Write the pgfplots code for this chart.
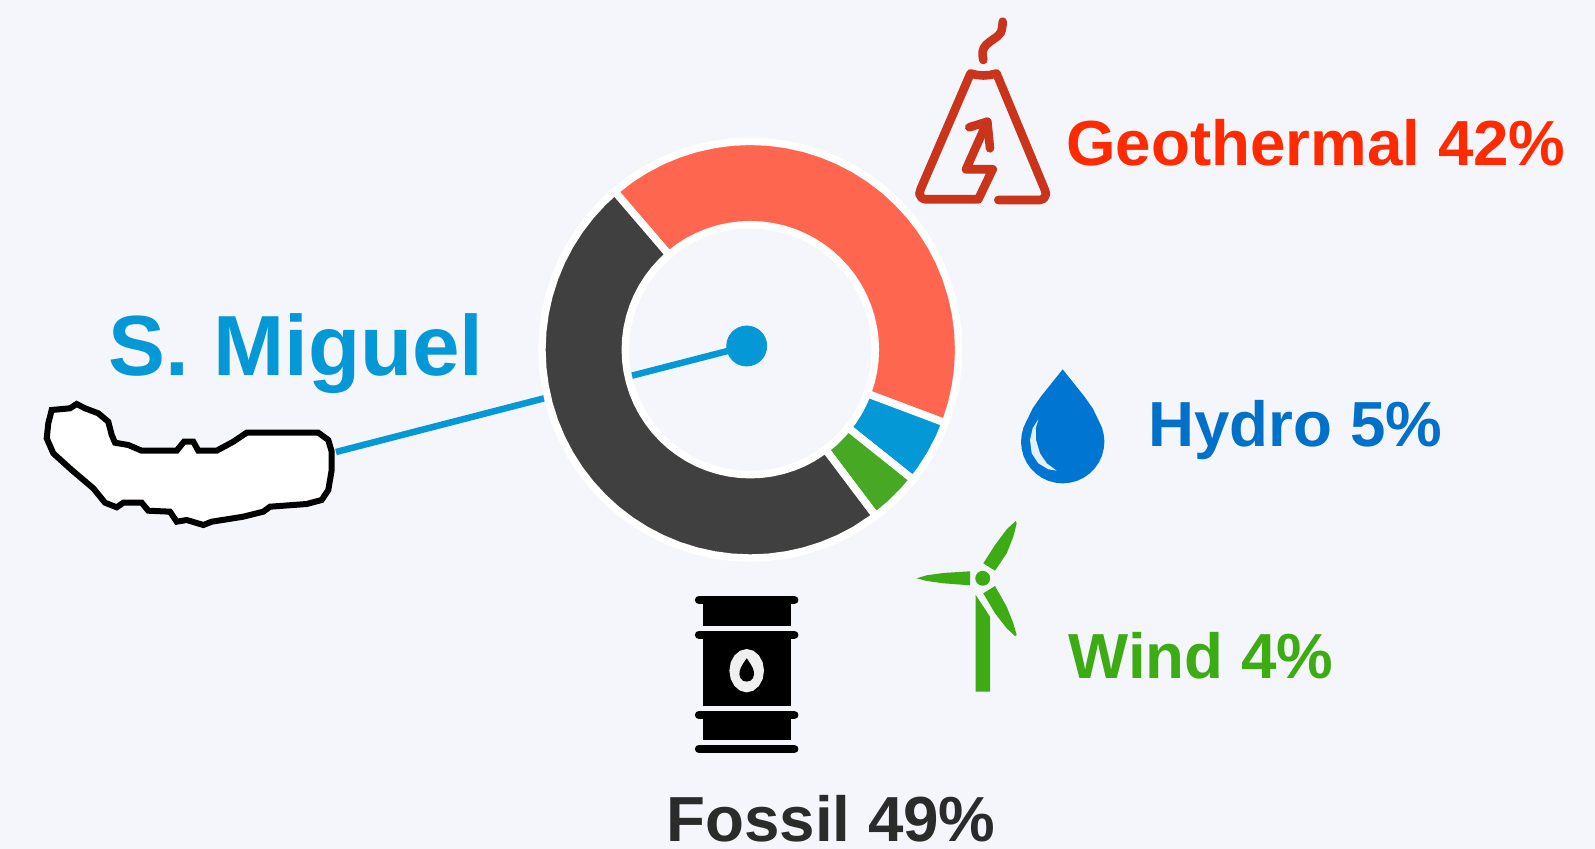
\documentclass[border=0pt]{standalone}
\usepackage{pgfplots}
\usepackage{fontspec}
\pgfplotsset{compat=1.18}
\setmainfont{Liberation Sans}
\definecolor{bg}{HTML}{F4F6FC}
\definecolor{cred}{HTML}{FF6650}
\definecolor{cblack}{HTML}{404040}
\definecolor{cblue}{HTML}{0598D6}
\definecolor{cgreen}{HTML}{46A823}
\definecolor{tred}{HTML}{FF2A00}
\definecolor{thyd}{HTML}{0070C8}
\definecolor{twin}{HTML}{3CAB14}
\definecolor{tfos}{HTML}{2B2B2B}
\definecolor{volc}{HTML}{C9341B}
\definecolor{drop}{HTML}{0076D2}
\newcommand{\lab}{\fontsize{31.85}{36}\selectfont\bfseries}
\pgfplotsset{base/.style={hide axis,scale only axis,width=797.5pt,height=424.5pt},
 wedge/.style={data cs=polar,draw=white,line width=3.75pt,line join=miter}}
\begin{document}
\begin{tikzpicture}
% pixel axis, behind the ring
\begin{axis}[base,xmin=0,xmax=1595,ymin=0,ymax=849,y dir=reverse]
\addplot[fill=bg,draw=none] coordinates {(0,0)(1595,0)(1595,849)(0,849)} --cycle;
\addplot[cblue,line width=3.25pt] coordinates {(336,452)(747,346)};
\addplot[color=cblue,only marks,mark=*,mark size=10pt,mark options={fill=cblue}] coordinates {(746.7,346)};
% island
\addplot[fill=white,draw=black,line width=3pt,line join=miter] coordinates {
(51.7,410)(70,408.3)(76.7,404)(85,408.3)(98.3,413.3)(108.3,421.7)(111.7,435)(115,442.7)(128.3,445)(141.7,450.7)(176.7,450.7)(184,441.7)(193.3,441.7)(198.3,450.7)(216.7,450.7)(233.3,441.7)(246.7,432.7)(318.3,432.7)(328.3,440)(331.7,451.7)(331.7,470)(328.3,490)(321.7,500)(306.7,504)(270,506.7)(263.3,511.7)(243.3,516.7)(211.7,521.7)(203.3,525)(186.7,520)(176.7,521.7)(170,511.7)(148.3,510.7)(141.7,502.7)(123.3,502.7)(116.7,507.3)(105,502.7)(93.3,488.3)(71.7,470)(53.3,453.3)(46.7,438.3)(48.3,423.3)} --cycle;
% volcano
\addplot[volc,line width=4.3pt,line cap=round,line join=round] coordinates {
(998.3,200)(1040,200)(1044,198.5)(1046,194)(1044.5,189)(996.5,73.5)(990,75)(983.3,75.5)(977,75)(970.5,73.5)(920.7,189)(919.3,194)(921.7,198)(925,199.3)(978.3,199.3)(992.7,169.3)(966,169.3)(987.3,121.7)};
\addplot[volc,line width=4.3pt,line cap=round,line join=round] coordinates {(969.3,127.3)(987.3,121.7)(990,148.3)};
\addplot[volc,line width=4.3pt,line cap=round,smooth,tension=0.7] coordinates {(983.3,60)(982.7,51.7)(986,45)(993.3,39.3)(1000.7,32.7)(1002.7,21.7)};
% drop
\addplot[fill=drop,draw=none] coordinates {(1062.7,369.3)(1073.3,382.7)(1084,396)(1092.7,408.3)(1098.8,420.9)(1101.9,427.4)(1103.7,434.5)(1104.4,441.7)(1103.7,448.9)(1101.9,455.9)(1098.8,462.5)(1094.6,468.5)(1089.5,473.6)(1083.5,477.8)(1076.9,480.9)(1069.9,482.7)(1062.7,483.4)(1055.5,482.7)(1048.5,480.9)(1041.9,477.8)(1035.9,473.6)(1030.8,468.5)(1026.6,462.5)(1023.5,455.9)(1021.7,448.9)(1021,441.7)(1021.7,434.5)(1023.5,427.4)(1026.6,420.9)(1032.7,408.3)(1041.3,396)(1052,382.7)} --cycle;
\addplot[fill=white!90!drop,draw=none] coordinates {(1038.3,419.3)(1032.7,428.3)(1030,440)(1031.7,453.3)(1038.3,463.3)(1048.3,469.3)(1056.7,470.7)(1046.7,463.3)(1040,453.3)(1036,440)(1035.7,428.3)} --cycle;
% turbine
\addplot[fill=twin,draw=none] coordinates {(916.7,578.3)(926.7,575.3)(943.3,573)(970,571.3)(970,585.3)(943.3,583.3)(926.7,581)} --cycle;
\addplot[fill=twin,draw=none] coordinates {(1015.7,521)(1006.7,529.3)(995,545)(983.3,563.3)(995,570.7)(1006.7,553.3)(1013.3,536.7)(1016.7,523.3)} --cycle;
\addplot[fill=twin,draw=none] coordinates {(983.3,593.3)(995,586)(1006.7,606.7)(1013.3,623.3)(1016.7,635)(1015,636)(1006.7,628.3)(995,613.3)} --cycle;
\addplot[fill=twin,draw=none] coordinates {(975.7,595)(990,616.7)(990,691.7)(975.7,691.7)} --cycle;
\addplot[color=twin,only marks,mark=*,mark size=3.5pt,mark options={fill=twin}] coordinates {(982.7,578.3)};
% barrel
\addplot[black,line width=4.15pt,line cap=round] coordinates {(699,600)(794.3,600)};
\addplot[black,line width=4.15pt,line cap=round] coordinates {(699,634.7)(794.3,634.7)};
\addplot[black,line width=4.15pt,line cap=round] coordinates {(699,715)(794.3,715)};
\addplot[black,line width=4.15pt,line cap=round] coordinates {(699,749)(794.3,749)};
\addplot[fill=black,draw=none] coordinates {(702.7,604)(790.7,604)(790.7,625.7)(702.7,625.7)} --cycle;
\addplot[fill=black,draw=none] coordinates {(702.7,636)(790.7,636)(790.7,705.7)(702.7,705.7)} --cycle;
\addplot[fill=black,draw=none] coordinates {(702.7,716)(790.7,716)(790.7,740)(702.7,740)} --cycle;
\addplot[fill=white!94!black,draw=none] coordinates {(764,670.7)(762.7,679)(758.9,686)(753.3,690.7)(746.7,692.4)(740.1,690.7)(734.5,686)(730.7,679)(729.4,670.7)(730.7,662.4)(734.5,655.4)(740.1,650.7)(746.7,649)(753.3,650.7)(758.9,655.4)(762.7,662.4)} --cycle;
\addplot[fill=black,draw=none] coordinates {(746.7,658.3)(748.5,661)(750.5,664)(752.5,667.5)(753.7,671)(754,674.3)(753,678)(750.5,680.7)(746.7,681.6)(742.9,680.7)(740.4,678)(739.4,674.3)(739.7,671)(740.9,667.5)(742.9,664)(744.9,661)} --cycle;
% labels
\node[anchor=base west,inner sep=0pt,text=cblue] at (axis cs:108.5,376) {\fontsize{42.7}{48}\selectfont\bfseries S. Miguel};
\node[anchor=base west,inner sep=0pt,text=tred] at (axis cs:1066,166) {\lab Geothermal 42\%};
\node[anchor=base west,inner sep=0pt,text=thyd] at (axis cs:1148,447) {\lab Hydro 5\%};
\node[anchor=base west,inner sep=0pt,text=twin] at (axis cs:1068,678) {\lab Wind 4\%};
\node[anchor=base west,inner sep=0pt,text=tfos] at (axis cs:666,841) {\lab Fossil 49\%};
\end{axis}
% donut, origin at the ring's centre
\begin{axis}[base,xmin=-750.3,xmax=844.7,ymin=-499.3,ymax=349.7]
\addplot[wedge,fill=cred] coordinates {
(130.6,208.4)(125,208.4)(120,208.4)(115,208.4)(110,208.4)(105,208.4)(100,208.4)(95,208.4)(90,208.4)(85,208.4)(80,208.4)(75,208.4)(70,208.4)(65,208.4)(60,208.4)(55,208.4)(50,208.4)(45,208.4)(40,208.4)(35,208.4)(30,208.4)(25,208.4)(20,208.4)(15,208.4)(10,208.4)(5,208.4)(0,208.4)(-5,208.4)(-10,208.4)(-15,208.4)(-20.6,208.4)
(-20.6,125)(-15,125)(-10,125)(-5,125)(0,125)(5,125)(10,125)(15,125)(20,125)(25,125)(30,125)(35,125)(40,125)(45,125)(50,125)(55,125)(60,125)(65,125)(70,125)(75,125)(80,125)(85,125)(90,125)(95,125)(100,125)(105,125)(110,125)(115,125)(120,125)(125,125)(130.6,125)} --cycle;
\addplot[wedge,fill=cblue] coordinates {
(-20.6,208.4)(-25,208.4)(-30,208.4)(-35,208.4)(-38.6,208.4)
(-38.6,125)(-35,125)(-30,125)(-25,125)(-20.6,125)} --cycle;
\addplot[wedge,fill=cgreen] coordinates {
(-38.6,208.4)(-43,208.4)(-48,208.4)(-53,208.4)
(-53,125)(-48,125)(-43,125)(-38.6,125)} --cycle;
\addplot[wedge,fill=cblack] coordinates {
(-53,208.4)(-60,208.4)(-65,208.4)(-70,208.4)(-75,208.4)(-80,208.4)(-85,208.4)(-90,208.4)(-95,208.4)(-100,208.4)(-105,208.4)(-110,208.4)(-115,208.4)(-120,208.4)(-125,208.4)(-130,208.4)(-135,208.4)(-140,208.4)(-145,208.4)(-150,208.4)(-155,208.4)(-160,208.4)(-165,208.4)(-170,208.4)(-175,208.4)(-180,208.4)(-185,208.4)(-190,208.4)(-195,208.4)(-200,208.4)(-205,208.4)(-210,208.4)(-215,208.4)(-220,208.4)(-225,208.4)(-229.4,208.4)
(-229.4,125)(-225,125)(-220,125)(-215,125)(-210,125)(-205,125)(-200,125)(-195,125)(-190,125)(-185,125)(-180,125)(-175,125)(-170,125)(-165,125)(-160,125)(-155,125)(-150,125)(-145,125)(-140,125)(-135,125)(-130,125)(-125,125)(-120,125)(-115,125)(-110,125)(-105,125)(-100,125)(-95,125)(-90,125)(-85,125)(-80,125)(-75,125)(-70,125)(-65,125)(-60,125)(-53,125)} --cycle;
\end{axis}
\end{tikzpicture}
\end{document}
